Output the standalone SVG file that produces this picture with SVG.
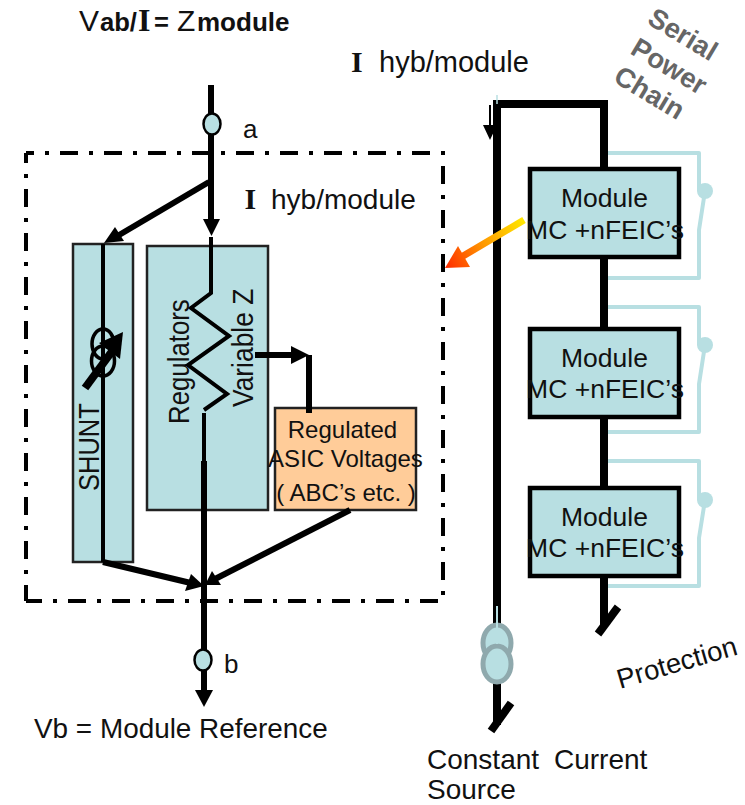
<svg xmlns="http://www.w3.org/2000/svg" width="745" height="805" viewBox="0 0 745 805">
<defs>
<linearGradient id="fire" gradientUnits="userSpaceOnUse" x1="524" y1="222" x2="445" y2="268"><stop offset="0" stop-color="#ffe600"/><stop offset="0.5" stop-color="#ff9a00"/><stop offset="1" stop-color="#ff2a00"/></linearGradient>
</defs>
<style>
text{font-family:"Liberation Sans",Arial,sans-serif;fill:#111;font-size:26px}
.s{font-family:"Liberation Serif","Times New Roman",serif;font-weight:bold}
.w{fill:none;stroke:#000;stroke-linecap:butt;stroke-linejoin:miter}
.h{fill:#000;stroke:none}
.box{fill:#b8dfe2;stroke:#222;stroke-width:2.5}
.mod{fill:#b8dfe2;stroke:#000;stroke-width:4.500}
.mt{font-size:26.500px}
.sw{fill:none;stroke:#b8dfe2;stroke-width:4;stroke-linejoin:round}
.nd{fill:#b8dfe2;stroke:#000;stroke-width:2.5}
.g{font-weight:bold;fill:#666;font-size:27.500px}
.bd{fill:none;stroke:#000;stroke-width:4;stroke-dasharray:18 11 4 11}
</style>
<rect width="745" height="805" fill="#fff"/>

<g id="boundary"><path class="bd" stroke-dashoffset="10" d="M26 153H443V601H26"/><path class="bd" stroke-dashoffset="2" d="M26 601V153"/></g>

<g id="shunt"><rect class="box" x="73" y="244" width="60" height="318"/><text transform="translate(99 491) rotate(-90) scale(0.88 1)" style="font-size:29px">SHUNT</text></g>
<g id="regulators"><rect class="box" x="147" y="246" width="121" height="264"/>
<text transform="translate(189 424) rotate(-90) scale(0.89 1)" style="font-size:29px">Regulators</text>
<text transform="translate(253 407) rotate(-90) scale(0.91 1)" style="font-size:29px">Variable Z</text></g>
<g id="asic"><rect x="275" y="408" width="141" height="102" fill="#ffcc99" stroke="#222" stroke-width="2.5"/>
<text x="342.500" y="438" text-anchor="middle" style="font-size:24px">Regulated</text>
<text x="345.500" y="467" text-anchor="middle" style="font-size:24px">ASIC Voltages</text>
<text x="346" y="501" text-anchor="middle" style="font-size:24px">( ABC’s etc. )</text></g>

<g id="connectors">
<path class="w" stroke-width="6" d="M211 85V222"/><path class="h" d="M203 219H220L211.500 236Z"/>
<path class="w" stroke-width="6" d="M209 182L114 238"/><path class="h" d="M104 243L115 227L124 241Z"/>
<path class="w" stroke-width="4" d="M211 237V293L191 308L229 336L188 365L227 394L204 410"/>
<path class="w" stroke-width="4" d="M204 413V462"/>
<path class="w" stroke-width="6" d="M204 461V692"/><path class="h" d="M195 690H213L204 707Z"/>
<path class="w" stroke-width="4" d="M103 244V562"/>
<path class="w" stroke-width="6" d="M103 562L195 584"/><path class="h" d="M204 586L185 591L191 574Z"/>
<path class="w" stroke-width="6" d="M350 510L215 579"/><path class="h" d="M205 585L221 585L212 571Z"/>
<path class="w" stroke-width="6" d="M255 355H298"/><path class="h" d="M291 346L309 355L291 364Z"/>
<path class="w" stroke-width="6" d="M309 355V413"/>
<ellipse cx="103" cy="344" rx="11" ry="15" fill="none" stroke="#000" stroke-width="3.500"/>
<ellipse cx="103" cy="361" rx="11.500" ry="15" fill="none" stroke="#000" stroke-width="3.500"/>
<path class="w" stroke-width="8" d="M85 388L113 350"/><path class="h" d="M123 332L120 359L99 343Z"/>
<path class="w" stroke-width="8" d="M497 725V104H604V626"/>
<path d="M497 95V104" stroke="#b8dfe2" stroke-width="1.500"/>
<path class="w" stroke-width="2" d="M490 105V128"/><path class="h" d="M483 125H497L490 140Z"/>
<path class="w" stroke-width="8" d="M618 607L598 634"/>
<path class="w" stroke-width="8" d="M511 703L491 731"/>
<path class="sw" d="M608 153H699V191M705 191L699 230V278H608"/>
<path class="sw" d="M608 307H699V345M705 345L699 384V432H608"/>
<path class="sw" d="M608 461H699V500M705 500L699 538V586H608"/>
<path d="M524 220L458 259" fill="none" stroke="url(#fire)" stroke-width="7"/>
<path d="M445 268L458 246L470 267Z" fill="url(#fire)"/>
</g>

<g id="node-a"><ellipse class="nd" cx="212" cy="124" rx="8.500" ry="10.500"/><text x="243" y="138">a</text></g>
<g id="node-b"><ellipse class="nd" cx="203" cy="660" rx="8.500" ry="10.500"/><text x="224" y="673">b</text></g>
<g id="module-1"><rect class="mod" x="530" y="169" width="149" height="88"/><text class="mt" x="604.500" y="207" text-anchor="middle">Module</text><text class="mt" x="605" y="239" text-anchor="middle">MC +nFEIC’s</text></g>
<g id="module-2"><rect class="mod" x="530" y="329" width="149" height="88"/><text class="mt" x="604.500" y="367" text-anchor="middle">Module</text><text class="mt" x="605" y="398" text-anchor="middle">MC +nFEIC’s</text></g>
<g id="module-3"><rect class="mod" x="530" y="488" width="149" height="88"/><text class="mt" x="604.500" y="526" text-anchor="middle">Module</text><text class="mt" x="605" y="557" text-anchor="middle">MC +nFEIC’s</text></g>
<g id="switch-1"><circle cx="705" cy="191" r="8" fill="#b8dfe2"/></g>
<g id="switch-2"><circle cx="705" cy="345" r="8" fill="#b8dfe2"/></g>
<g id="switch-3"><circle cx="705" cy="500" r="8" fill="#b8dfe2"/></g>
<g id="source"><ellipse cx="497" cy="643" rx="14" ry="18" fill="#b8dfe2" stroke="#8fa9ad" stroke-width="5"/><ellipse cx="497" cy="664" rx="14" ry="18" fill="#b8dfe2" stroke="#8fa9ad" stroke-width="5"/><path d="M497 606V644" stroke="#b8dfe2" stroke-width="2"/></g>

<g id="labels">
<text y="30.500" style="font-size:30px"><tspan x="79">V</tspan><tspan x="100" font-weight="bold" style="font-size:25.600px">ab/</tspan><tspan x="138" class="s" style="font-size:32px">I</tspan><tspan x="154" font-weight="bold" style="font-size:25.600px">=</tspan><tspan x="177">Z</tspan><tspan x="197" font-weight="bold" style="font-size:26px">module</tspan></text>
<text class="s" x="351" y="72" style="font-size:30px">I</text><text x="379" y="72" style="font-size:29px">hyb/module</text>
<text class="s" x="244.500" y="209" style="font-size:30px">I</text><text x="271" y="209" style="font-size:28px">hyb/module</text>
<text x="34" y="738" style="font-size:27.900px">Vb = Module Reference</text>
<text x="427" y="769" style="font-size:28px">Constant</text><text x="554" y="769" style="font-size:28px">Current</text>
<text x="427" y="799" style="font-size:28px">Source</text>
<text transform="translate(620 689) rotate(-16.300)" style="font-size:27.500px">Protection</text>
<text class="g" transform="translate(646 23) rotate(31)">Serial</text>
<text class="g" transform="translate(629 53) rotate(31)">Power</text>
<text class="g" transform="translate(612 81) rotate(31)">Chain</text>
</g>
</svg>
